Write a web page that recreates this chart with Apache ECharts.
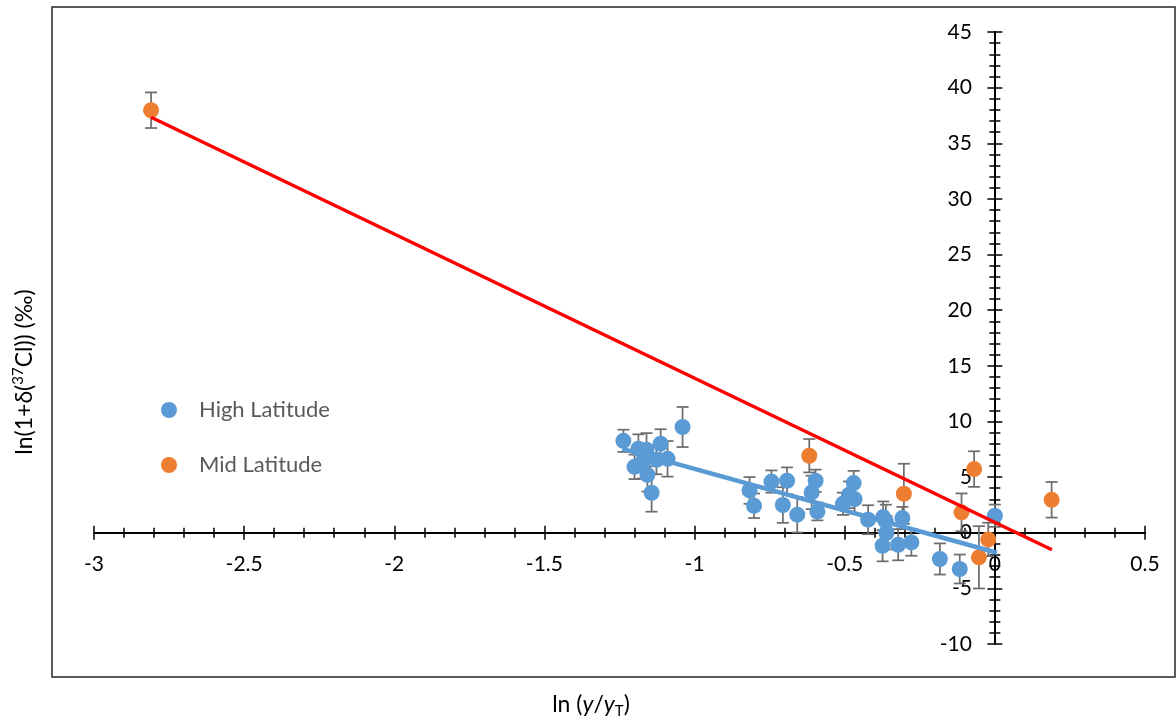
<!DOCTYPE html>
<html>
<head>
<meta charset="utf-8">
<script src="https://cdn.jsdelivr.net/npm/echarts@6/dist/echarts.min.js"></script>
<style>html,body{margin:0;padding:0;background:#fff;}#c{width:1176px;height:722px;}</style>
</head>
<body>
<div id="c"></div>
<script>
// ---- data ----
var hlX   = [-1.237,-1.187,-1.16,-1.113,-1.2,-1.173,-1.157,-1.127,-1.09,-1.143,-1.04,-0.817,-0.802,-0.744,-0.706,-0.692,-0.658,-0.61,-0.597,-0.591,-0.506,-0.486,-0.47,-0.467,-0.422,-0.372,-0.363,-0.361,-0.374,-0.322,-0.308,-0.278,-0.183,-0.117,0.0];
var hlY   = [8.26,7.54,7.45,8.0,5.92,6.37,5.2,6.55,6.64,3.59,9.5,3.8,2.42,4.6,2.49,4.67,1.62,3.62,4.67,1.91,2.6,3.41,4.46,3.02,1.17,1.41,1.02,0.0,-1.17,-1.08,1.32,-0.87,-2.36,-3.26,1.53];
var hlErr = [1.0,1.3,1.5,1.3,1.1,1.5,1.5,1.3,1.6,1.7,1.8,1.2,1.1,1.0,1.6,1.2,1.6,1.5,1.0,0.8,1.0,1.2,1.1,1.3,1.3,1.4,1.5,1.5,1.4,1.4,1.0,1.2,1.4,1.3,1.0];
var mlX   = [-2.81,-0.618,-0.303,-0.069,-0.111,-0.022,-0.053,0.189];
var mlY   = [37.97,6.92,3.5,5.72,1.83,-0.6,-2.21,2.96];
var mlErr = [1.6,1.5,2.7,1.6,1.7,1.5,2.8,1.6];
var redTrendX  = [-2.81, 0.19];
var redTrendY  = [37.34, -1.53];
var blueTrendX = [-1.24, 0.007];
var blueTrendY = [7.54, -1.8];
var xTicks = [-3,-2.5,-2,-1.5,-1,-0.5,0,0.5];
var yTicks = [-10,-5,0,5,10,15,20,25,30,35,40,45];

var FONT = 'Lato';
function zip(a,b,c){return a.map(function(v,i){return c?[v,b[i],c[i]]:[v,b[i]];});}

function errItem(params, api){
  var x = api.value(0), y = api.value(1), e = api.value(2);
  var hi = api.coord([x, y + e]), lo = api.coord([x, y - e]);
  var st = {stroke:'#6e6e6e', lineWidth:1.75};
  return {type:'group', children:[
    {type:'line', shape:{x1:hi[0],y1:hi[1],x2:lo[0],y2:lo[1]}, style:st},
    {type:'line', shape:{x1:hi[0]-6,y1:hi[1],x2:hi[0]+6,y2:hi[1]}, style:st},
    {type:'line', shape:{x1:lo[0]-6,y1:lo[1],x2:lo[0]+6,y2:lo[1]}, style:st}
  ]};
}

var W = 1176, H = 722;
var G = {left:94, right:31, top:32, bottom:78};
var xMin = xTicks[0], xMax = xTicks[xTicks.length-1];
var yMin = yTicks[0], yMax = yTicks[yTicks.length-1];
var gw = W - G.left - G.right, gh = H - G.top - G.bottom;
// pixel position of the zero lines (where the axes cross)
var zeroPy = G.top + gh * (yMax - 0) / (yMax - yMin);
var zeroPx = G.left + gw * (0 - xMin) / (xMax - xMin);

var axisLineStyle = {color:'#000', width:2};
var tickStyle = {color:'#000', width:1.5};
function lineAxisX(pos){return {type:'value', gridIndex:0, min:xMin, max:xMax, interval:0.5, position:pos,
  axisLine:{onZero:true, onZeroAxisIndex:0, lineStyle:axisLineStyle},
  axisTick:{show:true, inside:false, length:7, lineStyle:tickStyle},
  minorTick:{show:true, splitNumber:5, length:5, lineStyle:tickStyle},
  splitLine:{show:false}, minorSplitLine:{show:false}, axisLabel:{show:false}};}
function lineAxisY(pos){return {type:'value', gridIndex:0, min:yMin, max:yMax, interval:5, position:pos,
  axisLine:{onZero:true, onZeroAxisIndex:0, lineStyle:axisLineStyle},
  axisTick:{show:true, inside:false, length:7.5, lineStyle:tickStyle},
  minorTick:{show:true, splitNumber:5, length:5.5, lineStyle:tickStyle},
  splitLine:{show:false}, minorSplitLine:{show:false}, axisLabel:{show:false}};}

var chart = echarts.init(document.getElementById('c'));
chart.setOption({
  animation:false,
  backgroundColor:'#fff',
  grid:[
    {left:G.left, right:G.right, top:G.top, bottom:G.bottom},
    {left:G.left, right:G.right, top:G.top, bottom:H - zeroPy},
    {left:G.left, right:W - zeroPx, top:G.top, bottom:G.bottom}
  ],
  legend:{
    data:['High Latitude','Mid Latitude'],
    orient:'vertical', left:156, top:394,
    icon:'circle', itemWidth:50, itemHeight:16, itemGap:33,
    textStyle:{color:'#595959', fontSize:22, fontFamily:FONT}
  },
  xAxis:[
    lineAxisX('bottom'), lineAxisX('top'),
    {type:'value', gridIndex:1, min:xMin, max:xMax, interval:0.5, position:'bottom',
     axisLine:{show:false, onZero:false}, axisTick:{show:false}, splitLine:{show:false},
     axisLabel:{color:'#000', fontSize:21, fontFamily:FONT, margin:21, showMinLabel:true, showMaxLabel:true}},
    {type:'value', gridIndex:2, min:xMin, max:0, show:false}
  ],
  yAxis:[
    lineAxisY('left'), lineAxisY('right'),
    {type:'value', gridIndex:1, min:0, max:yMax, show:false},
    {type:'value', gridIndex:2, min:yMin, max:yMax, interval:5, position:'right',
     axisLine:{show:false, onZero:false}, axisTick:{show:false}, splitLine:{show:false},
     axisLabel:{inside:true, color:'#000', fontSize:21, fontFamily:FONT, margin:23, showMinLabel:true, showMaxLabel:true}}
  ],
  graphic:[
    {type:'rect', shape:{x:52, y:7, width:1123, height:670}, style:{fill:null, stroke:'#262626', lineWidth:1.5}, silent:true, z:-1},
    {type:'text', x:25, y:372, rotation:Math.PI/2,
     style:{text:'{n|ln(1+δ(}{sup|37}{n|Cl)) (‰)}', align:'center', verticalAlign:'middle', fill:'#000',
       rich:{
         n:{fontSize:23, fontFamily:FONT, lineHeight:28, fill:'#000'},
         sup:{fontSize:15, fontFamily:FONT, lineHeight:28, verticalAlign:'top', fill:'#000'}
       }}},
    {type:'text', x:591, y:705,
     style:{text:'{n|ln (}{i|y}{n|/}{i|y}{s|T}{n|)}', align:'center', verticalAlign:'middle', fill:'#000',
       rich:{
         n:{fontSize:23, fontFamily:FONT, lineHeight:28, fill:'#000'},
         i:{fontSize:23, fontFamily:FONT, fontStyle:'italic', lineHeight:28, fill:'#000'},
         s:{fontSize:15, fontFamily:FONT, lineHeight:28, verticalAlign:'bottom', fill:'#000'}
       }}}
  ],
  series:[
    {name:'hlErr', type:'custom', xAxisIndex:0, yAxisIndex:0, renderItem:errItem, data:zip(hlX,hlY,hlErr), z:2, silent:true},
    {name:'mlErr', type:'custom', xAxisIndex:0, yAxisIndex:0, renderItem:errItem, data:zip(mlX,mlY,mlErr), z:2, silent:true},
    {name:'High Latitude', type:'scatter', xAxisIndex:0, yAxisIndex:0, symbol:'circle', symbolSize:16, itemStyle:{color:'#5B9BD5', opacity:1}, data:zip(hlX,hlY), z:3},
    {name:'Mid Latitude', type:'scatter', xAxisIndex:0, yAxisIndex:0, symbol:'circle', symbolSize:16, itemStyle:{color:'#ED7D31', opacity:1}, data:zip(mlX,mlY), z:3},
    {name:'blueTrend', type:'line', xAxisIndex:0, yAxisIndex:0, data:zip(blueTrendX,blueTrendY), symbol:'none', lineStyle:{color:'#5B9BD5', width:4.5}, z:4, silent:true},
    {name:'redTrend', type:'line', xAxisIndex:0, yAxisIndex:0, data:zip(redTrendX,redTrendY), symbol:'none', lineStyle:{color:'#FF0000', width:3.5}, z:4, silent:true}
  ]
});
</script>
</body>
</html>
